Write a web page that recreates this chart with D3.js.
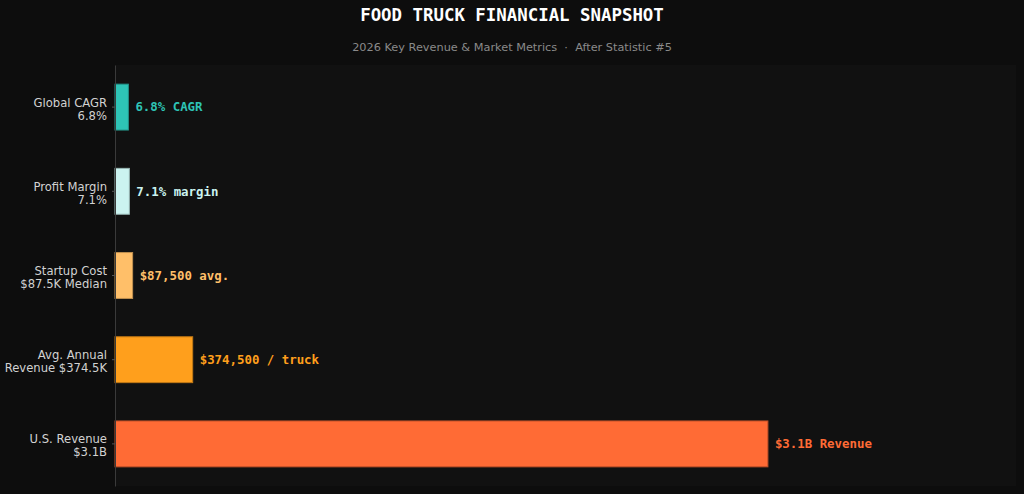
<!DOCTYPE html>
<html>
<head>
<meta charset="utf-8">
<script src="https://cdn.jsdelivr.net/npm/d3@7"></script>
<style>
  html, body { margin: 0; padding: 0; background: #0d0d0d; }
  svg { display: block; }
</style>
</head>
<body>
<div id="wrapper"></div>
<script>
// chart data
const categories = ["Global CAGR|6.8%", "Profit Margin|7.1%", "Startup Cost|$87.5K Median", "Avg. Annual|Revenue $374.5K", "U.S. Revenue|$3.1B"];
const barScores = [2.05, 2.2, 2.7, 11.9, 100];
const valueLabels = ["6.8% CAGR", "7.1% margin", "$87,500 avg.", "$374,500 / truck", "$3.1B Revenue"];
const barColors = ["#2ec4b6", "#cbf3f0", "#ffbf69", "#ff9f1c", "#ff6b35"];
const xMax = 138;

function buildPlot() {
    var dimension = {
        width: 1024,
        height: 494,
        margin: {
            top: 65,
            left: 115,
            bottom: 8,
            right: 8
        }
    };
    dimension.boundedWidth = dimension.width - dimension.margin.left - dimension.margin.right;
    dimension.boundedHeight = dimension.height - dimension.margin.top - dimension.margin.bottom;

    const svg = d3.select("#wrapper").append("svg")
        .attr("width", dimension.width)
        .attr("height", dimension.height);

    svg.append("rect")
        .attr("width", dimension.width)
        .attr("height", dimension.height)
        .attr("fill", "#0d0d0d");

    // title + subtitle
    svg.append("text")
        .attr("x", dimension.width / 2)
        .attr("y", 21)
        .attr("text-anchor", "middle")
        .attr("fill", "#ffffff")
        .attr("font-family", "DejaVu Sans Mono")
        .attr("font-weight", "bold")
        .attr("font-size", "17.4px")
        .text("FOOD TRUCK FINANCIAL SNAPSHOT");

    svg.append("text")
        .attr("x", dimension.width / 2)
        .attr("y", 51)
        .attr("text-anchor", "middle")
        .attr("fill", "#8a8a8a")
        .attr("font-family", "DejaVu Sans")
        .attr("font-size", "11.3px")
        .text("2026 Key Revenue & Market Metrics  \u00b7  After Statistic #5")
        .style("white-space", "pre");

    const bounded = svg.append("g")
        .attr("transform", `translate(${dimension.margin.left},${dimension.margin.top})`);

    bounded.append("rect")
        .attr("width", dimension.boundedWidth)
        .attr("height", dimension.boundedHeight)
        .attr("fill", "#111111");

    const xScaler = d3.scaleLinear()
        .domain([0, xMax])
        .range([0, dimension.boundedWidth]);

    const yScaler = d3.scaleBand()
        .domain(categories)
        .range([0, dimension.boundedHeight])
        .paddingInner(0.455)
        .paddingOuter(0.2275);

    const rows = categories.map((c, i) => ({cat: c, score: barScores[i], label: valueLabels[i], color: barColors[i]}));

    // bars
    bounded.append("g")
        .selectAll("rect")
        .data(rows)
        .join("rect")
        .attr("x", xScaler(0))
        .attr("y", d => yScaler(d.cat))
        .attr("width", d => xScaler(d.score))
        .attr("height", yScaler.bandwidth())
        .attr("fill", d => d.color)
        .attr("stroke", d => d3.color(d.color).darker(0.8))
        .attr("stroke-width", 1);

    // value labels
    bounded.append("g")
        .selectAll("text")
        .data(rows)
        .join("text")
        .attr("x", d => xScaler(d.score) + 7)
        .attr("y", d => yScaler(d.cat) + yScaler.bandwidth() / 2)
        .attr("dy", "0.35em")
        .attr("fill", d => d.color)
        .attr("font-family", "DejaVu Sans Mono")
        .attr("font-weight", "bold")
        .attr("font-size", "12.4px")
        .text(d => d.label);

    // y axis
    const yAxisGroup = bounded.append("g")
        .call(d3.axisLeft(yScaler).tickSize(3).tickPadding(4).tickSizeOuter(0));
    yAxisGroup.select(".domain").attr("stroke", "#3a3a3a");
    yAxisGroup.selectAll(".tick line").attr("stroke", "#555");
    yAxisGroup.selectAll(".tick text")
        .attr("fill", "#d2d2d2")
        .attr("font-family", "DejaVu Sans")
        .attr("font-size", "11.6px")
        .each(function(d) {
            const parts = d.split("|");
            const t = d3.select(this).text(null).attr("dy", null);
            parts.forEach((p, i) => {
                t.append("tspan")
                    .attr("x", -8)
                    .attr("dy", i === 0 ? "-0.05em" : "1.12em")
                    .text(p);
            });
        });
}

buildPlot();
</script>
</body>
</html>
